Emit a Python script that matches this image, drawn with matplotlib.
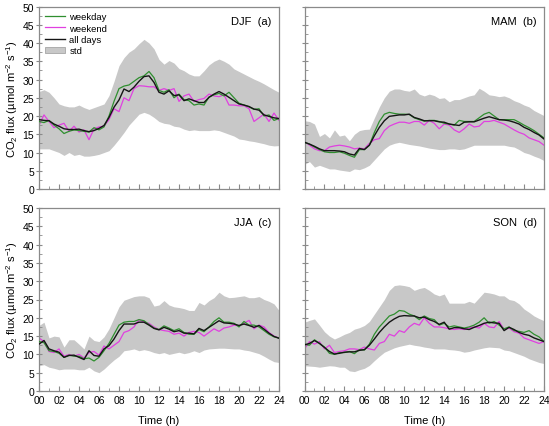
import numpy as np
import matplotlib
matplotlib.use('Agg')
import matplotlib.pyplot as plt
from matplotlib.patches import Patch
from matplotlib.lines import Line2D
from matplotlib.ticker import MultipleLocator

plt.rcParams['font.family'] = ['Liberation Sans', 'DejaVu Sans']
plt.rcParams['mathtext.fontset'] = 'custom'
plt.rcParams['mathtext.rm'] = 'Liberation Sans'

# half-hourly time axis, 00:00 .. 24:00
hours = np.arange(0, 24.5, 0.5)
tick_labels = ['00', '02', '04', '06', '08', '10', '12', '14', '16', '18', '20', '22', '24']

# --- DJF (a) ---
djf_weekday = [18.5, 18.2, 18.8, 17.5, 16.5, 15.2, 15.8, 16.2, 16.0, 15.8, 15.6, 16.8, 16.2,
               17.0, 20.0, 24.0, 27.5, 28.2, 28.5, 29.5, 30.5, 31.0, 32.2, 30.5, 27.0, 26.5,
               27.2, 25.0, 26.0, 24.5, 24.2, 23.0, 23.3, 23.0, 25.2, 25.8, 26.2, 25.5, 26.5,
               25.0, 23.5, 23.0, 22.5, 21.8, 22.0, 20.0, 20.3, 18.8, 19.3]
djf_weekend = [17.5, 20.3, 18.5, 16.8, 17.5, 18.0, 15.8, 17.2, 15.6, 16.2, 13.5, 16.5, 17.0,
               17.2, 19.0, 22.0, 21.2, 25.0, 24.2, 27.5, 28.3, 28.2, 28.0, 28.0, 27.0, 27.5,
               27.0, 27.5, 24.0, 25.5, 26.0, 24.0, 24.5, 24.8, 26.0, 25.5, 25.3, 25.8, 23.0,
               23.0, 22.8, 22.8, 22.0, 18.5, 19.5, 20.5, 18.5, 20.8, 18.8]
djf_all = [19.0, 18.8, 18.7, 17.8, 17.2, 16.5, 16.3, 16.3, 16.4, 16.0, 15.7, 16.0, 16.6,
           17.4, 19.6, 22.4, 24.4, 27.4, 26.7, 27.9, 29.5, 30.8, 31.0, 29.2, 26.5, 26.0,
           26.9, 25.6, 25.8, 24.2, 24.7, 24.2, 23.7, 23.7, 25.1, 26.0, 26.7, 26.0, 25.1,
           24.2, 23.3, 23.0, 22.6, 21.9, 21.6, 20.3, 19.9, 19.5, 19.3]
djf_upper = [26.7, 27.2, 26.5, 25.0, 23.3, 22.8, 22.5, 22.5, 23.0, 22.3, 21.8, 22.3, 22.8,
             23.3, 25.6, 29.5, 33.8, 36.0, 37.5, 38.4, 39.8, 41.0, 40.0, 38.4, 35.5, 34.2,
             35.2, 34.5, 33.0, 32.4, 31.5, 31.0, 31.0, 32.4, 34.0, 35.0, 35.6, 35.0, 34.2,
             32.9, 32.2, 31.5, 30.8, 30.1, 29.5, 28.8, 28.0, 27.2, 26.5]
djf_lower = [11.0, 11.0, 11.0, 10.5, 10.0, 9.2, 10.0, 9.2, 9.5, 9.0, 9.0, 9.2, 9.5,
             10.0, 10.5, 12.0, 13.7, 15.5, 17.5, 19.0, 20.5, 21.0, 20.5, 19.6, 18.5, 18.0,
             17.8, 17.2, 17.0, 16.4, 16.0, 16.2, 16.0, 16.0, 16.0, 16.2, 16.0, 15.5, 15.0,
             14.5, 13.7, 13.5, 13.2, 13.0, 12.7, 12.4, 12.0, 11.8, 11.9]

# --- MAM (b) ---
mam_weekday = [12.8, 12.3, 11.5, 10.8, 10.2, 10.0, 10.0, 10.2, 9.8, 9.2, 8.7, 10.8, 10.8,
               12.0, 15.5, 18.5, 20.5, 21.0, 20.7, 20.5, 20.5, 20.4, 19.5, 19.0, 18.6, 18.8,
               18.8, 18.5, 18.0, 17.8, 17.5, 18.8, 18.5, 18.5, 18.5, 19.5, 20.5, 21.0, 20.0,
               19.0, 19.0, 19.0, 19.0, 18.3, 17.5, 16.8, 16.0, 15.0, 14.0]
mam_weekend = [13.0, 12.0, 11.0, 10.5, 10.5, 11.5, 11.8, 12.0, 11.8, 11.5, 11.0, 11.2, 11.0,
               12.5, 13.5, 13.8, 16.0, 17.2, 17.8, 18.3, 18.3, 18.0, 18.5, 18.5, 17.5, 18.8,
               18.0, 16.5, 17.8, 17.5, 16.2, 15.5, 16.5, 17.8, 17.0, 17.2, 18.5, 18.5, 18.8,
               18.3, 17.8, 17.0, 16.2, 15.5, 15.0, 14.0, 13.5, 13.0, 12.0]
mam_all = [12.8, 12.3, 11.7, 11.0, 10.5, 10.5, 10.5, 10.4, 10.2, 9.6, 9.3, 11.1, 10.8,
           12.0, 14.6, 16.9, 18.7, 19.9, 20.1, 20.3, 20.3, 20.5, 19.6, 19.2, 18.7, 18.7,
           18.7, 18.4, 18.3, 17.8, 17.6, 17.4, 18.3, 18.4, 18.4, 18.9, 19.4, 19.8, 19.4,
           19.0, 18.9, 18.7, 18.3, 17.8, 16.9, 16.3, 15.5, 14.8, 13.7]
mam_upper = [18.7, 18.5, 17.8, 14.4, 15.2, 14.0, 16.2, 14.5, 14.8, 13.2, 15.0, 16.0, 16.3,
             16.4, 19.5, 22.5, 25.0, 26.8, 27.4, 27.4, 27.0, 26.8, 27.4, 26.0, 25.5, 26.0,
             25.6, 24.8, 25.0, 23.9, 24.5, 24.5, 25.0, 25.5, 25.8, 27.6, 26.8, 25.8, 25.6,
             25.3, 25.5, 25.0, 24.2, 23.7, 23.0, 22.5, 21.5, 20.8, 20.1]
mam_lower = [6.8, 7.5, 6.0, 6.5, 6.0, 5.5, 5.5, 5.2, 5.0, 4.8, 5.5, 5.3, 5.8,
             6.5, 8.0, 9.5, 11.0, 12.0, 12.5, 12.8, 12.5, 12.2, 12.0, 11.8, 11.5, 11.2,
             11.0, 10.8, 10.8, 11.0, 11.0, 10.8, 11.0, 11.5, 12.0, 12.0, 12.0, 12.0, 12.0,
             12.0, 12.0, 11.7, 11.5, 10.8, 10.0, 9.6, 9.0, 8.5, 7.8]

# --- JJA (c) ---
jja_weekday = [13.5, 13.2, 11.0, 10.8, 10.3, 9.2, 9.8, 9.5, 9.5, 8.8, 9.0, 8.2, 9.2,
               11.0, 13.0, 15.5, 18.0, 18.8, 19.0, 19.0, 19.5, 19.2, 18.2, 17.2, 16.8, 17.8,
               17.2, 16.5, 17.0, 16.0, 15.5, 15.5, 16.8, 16.2, 17.5, 19.0, 20.0, 18.8, 18.8,
               18.5, 17.5, 19.0, 18.0, 18.0, 17.5, 16.5, 15.5, 14.8, 14.5]
jja_weekend = [14.5, 13.5, 10.8, 10.5, 11.5, 9.5, 10.0, 9.5, 10.0, 9.0, 10.5, 10.8, 9.8,
               12.3, 11.5, 12.5, 13.5, 16.0, 16.5, 17.5, 19.5, 18.8, 18.5, 17.5, 16.8, 16.5,
               16.3, 15.5, 15.8, 15.0, 16.0, 16.3, 16.0, 15.0, 16.0, 17.0, 16.3, 17.2, 17.5,
               18.0, 17.8, 18.5, 19.3, 17.0, 18.0, 17.5, 16.0, 15.0, 14.5]
jja_all = [12.8, 13.8, 11.5, 11.0, 10.6, 9.2, 9.7, 9.8, 9.2, 8.6, 11.0, 9.7, 9.5,
           11.5, 12.4, 14.2, 16.5, 18.3, 18.3, 18.3, 18.8, 18.8, 18.0, 17.1, 16.7, 17.4,
           16.9, 16.2, 16.5, 15.8, 15.8, 15.6, 17.1, 16.5, 17.4, 18.3, 19.2, 18.6, 18.5,
           18.3, 17.9, 18.3, 17.9, 17.4, 17.9, 16.9, 15.8, 14.9, 14.4]
jja_upper = [17.9, 18.8, 14.5, 15.0, 14.8, 12.0, 14.0, 14.0, 12.8, 11.5, 15.0, 13.8, 13.5,
             14.8, 17.0, 20.0, 23.0, 24.8, 25.3, 25.8, 26.0, 26.0, 25.5, 23.2, 23.5, 24.7,
             23.5, 23.0, 22.8, 22.5, 22.0, 22.0, 24.2, 23.5, 24.7, 25.5, 27.0, 26.0, 25.5,
             25.6, 25.8, 26.0, 25.5, 25.5, 25.8, 25.0, 24.5, 23.8, 22.0]
jja_lower = [6.9, 7.2, 6.5, 6.2, 5.8, 6.0, 6.0, 6.0, 5.8, 5.8, 6.5, 5.5, 5.0,
             6.0, 7.3, 8.5, 9.5, 11.0, 11.2, 11.5, 11.0, 11.3, 11.0, 10.5, 10.2, 10.5,
             10.0, 10.3, 10.6, 10.2, 10.5, 11.0, 10.5, 11.2, 11.5, 11.6, 11.7, 11.7, 11.6,
             11.5, 11.5, 11.2, 11.0, 10.6, 10.2, 9.5, 8.7, 8.0, 7.8]

# --- SON (d) ---
son_weekday = [12.8, 12.5, 14.0, 13.0, 12.0, 10.3, 10.0, 10.5, 10.5, 10.8, 10.2, 11.3, 11.2,
               12.8, 15.5, 17.5, 19.0, 20.5, 21.0, 22.0, 21.8, 21.0, 20.5, 19.5, 20.5, 19.8,
               19.5, 18.0, 18.5, 17.5, 17.8, 17.5, 17.2, 17.5, 18.0, 18.8, 20.0, 18.5, 19.0,
               18.0, 17.0, 17.5, 16.5, 16.3, 16.0, 16.5, 15.5, 14.8, 13.5]
son_weekend = [11.5, 13.5, 12.8, 13.5, 11.5, 12.5, 10.5, 10.8, 11.0, 11.5, 11.5, 11.3, 12.0,
               11.5, 11.2, 13.0, 13.5, 15.5, 15.0, 16.5, 16.0, 17.5, 18.5, 18.0, 20.0, 18.5,
               17.5, 17.5, 17.3, 17.0, 16.8, 17.0, 16.8, 17.2, 17.5, 17.2, 18.5, 17.5, 17.3,
               19.0, 16.8, 17.2, 16.2, 15.8, 14.5, 14.0, 13.5, 13.0, 13.5]
son_all = [12.6, 13.0, 13.8, 13.0, 11.9, 10.8, 10.1, 10.3, 10.6, 10.7, 10.7, 11.1, 11.3,
           12.5, 14.2, 16.0, 17.5, 18.8, 19.7, 20.4, 20.6, 20.5, 20.5, 20.0, 20.2, 19.5,
           19.0, 18.2, 18.8, 16.9, 17.3, 17.3, 17.0, 16.8, 17.4, 17.9, 18.5, 18.8, 18.6,
           18.5, 16.5, 17.4, 16.8, 16.0, 15.5, 15.2, 14.5, 14.0, 13.5]
son_upper = [18.8, 19.3, 19.7, 18.0, 16.2, 15.0, 14.2, 14.8, 15.5, 16.0, 16.9, 17.3, 17.9,
             19.0, 21.0, 23.0, 25.0, 27.5, 28.8, 29.0, 28.8, 28.5, 27.5, 28.0, 28.3, 27.5,
             26.5, 26.0, 26.5, 24.0, 24.0, 24.0, 24.0, 24.5, 24.0, 25.5, 27.0, 26.8, 26.5,
             26.0, 26.0, 25.0, 24.7, 23.8, 22.4, 21.5, 20.5, 19.8, 19.2]
son_lower = [6.9, 6.8, 6.7, 6.5, 6.7, 6.9, 6.8, 6.5, 6.5, 5.5, 5.3, 5.8, 6.2,
             7.0, 8.3, 9.5, 10.6, 11.2, 11.8, 12.2, 12.5, 12.8, 12.5, 12.3, 12.0, 11.8,
             11.5, 11.5, 11.5, 11.3, 11.2, 11.0, 10.6, 10.8, 11.2, 11.5, 11.8, 12.0, 11.9,
             11.8, 11.2, 11.0, 10.5, 10.0, 9.5, 8.8, 8.3, 7.8, 7.5]

seasons = [
    ('DJF  (a)', djf_weekday, djf_weekend, djf_all, djf_upper, djf_lower),
    ('MAM  (b)', mam_weekday, mam_weekend, mam_all, mam_upper, mam_lower),
    ('JJA  (c)', jja_weekday, jja_weekend, jja_all, jja_upper, jja_lower),
    ('SON  (d)', son_weekday, son_weekend, son_all, son_upper, son_lower),
]

GREEN = '#2f8f2f'
MAGENTA = '#e040e0'
BAND = '#c8c8c8'
SPINE = '#8a8a8a'

W, H = 549, 427
fig = plt.figure(figsize=(W / 100, H / 100), dpi=100)

# axes boxes in pixels: left, right, top, bottom
boxes = [(39, 279, 7.5, 190), (304.5, 544, 7.5, 190),
         (39, 279, 209, 392), (304.5, 544, 209, 392)]

for i, (box, (name, wd, we, al, up, lo)) in enumerate(zip(boxes, seasons)):
    l, r, t, b = box
    ax = fig.add_axes([l / W, 1 - b / H, (r - l) / W, (b - t) / H])
    ax.fill_between(hours, lo, up, color=BAND, lw=0, zorder=1)
    ax.plot(hours, wd, color=GREEN, lw=0.9, zorder=3)
    ax.plot(hours, we, color=MAGENTA, lw=0.9, zorder=2)
    ax.plot(hours, al, color='#151515', lw=1.0, zorder=4)

    ax.set_xlim(0, 24)
    ax.set_ylim(0, 50)
    ax.xaxis.set_major_locator(MultipleLocator(2))
    ax.xaxis.set_minor_locator(MultipleLocator(1))
    ax.yaxis.set_major_locator(MultipleLocator(5))
    ax.yaxis.set_minor_locator(MultipleLocator(2.5))
    ax.tick_params(axis='x', which='major', direction='in', length=3.5, width=0.8,
                   color=SPINE, labelsize=7.5, pad=3)
    ax.tick_params(axis='x', which='minor', direction='in', length=2, width=0.6, color=SPINE)
    ax.tick_params(axis='y', which='major', direction='inout', length=4, width=0.8,
                   color=SPINE, labelsize=7.5, pad=1.5)
    ax.tick_params(axis='y', which='minor', direction='in', length=2, width=0.6, color=SPINE)
    for sp in ax.spines.values():
        sp.set_color(SPINE)
        sp.set_linewidth(0.9)

    if i in (2, 3):
        ax.set_xticks(np.arange(0, 25, 2))
        ax.set_xticklabels(tick_labels)
        ax.set_xlabel('Time (h)', fontsize=8, labelpad=7)
    else:
        ax.set_xticklabels([])
    if i in (0, 2):
        ax.set_ylabel('CO$_2$ flux (µmol m$^{-2}$ s$^{-1}$)', fontsize=8, labelpad=2)
    else:
        ax.set_yticklabels([])

    ax.text(0.97, 0.95, name, transform=ax.transAxes, ha='right', va='top', fontsize=8)

    if i == 0:
        handles = [Line2D([], [], color=GREEN, lw=0.9),
                   Line2D([], [], color=MAGENTA, lw=0.9),
                   Line2D([], [], color='#151515', lw=1.0),
                   Patch(facecolor=BAND, edgecolor='#999999', lw=0.5)]
        ax.legend(handles, ['weekday', 'weekend', 'all days', 'std'],
                  loc='upper left', frameon=False, fontsize=6.8,
                  handlelength=2.2, handletextpad=0.4, labelspacing=0.25,
                  borderaxespad=0.2, bbox_to_anchor=(0.0, 1.0))

fig.savefig('out.png', dpi=100)
